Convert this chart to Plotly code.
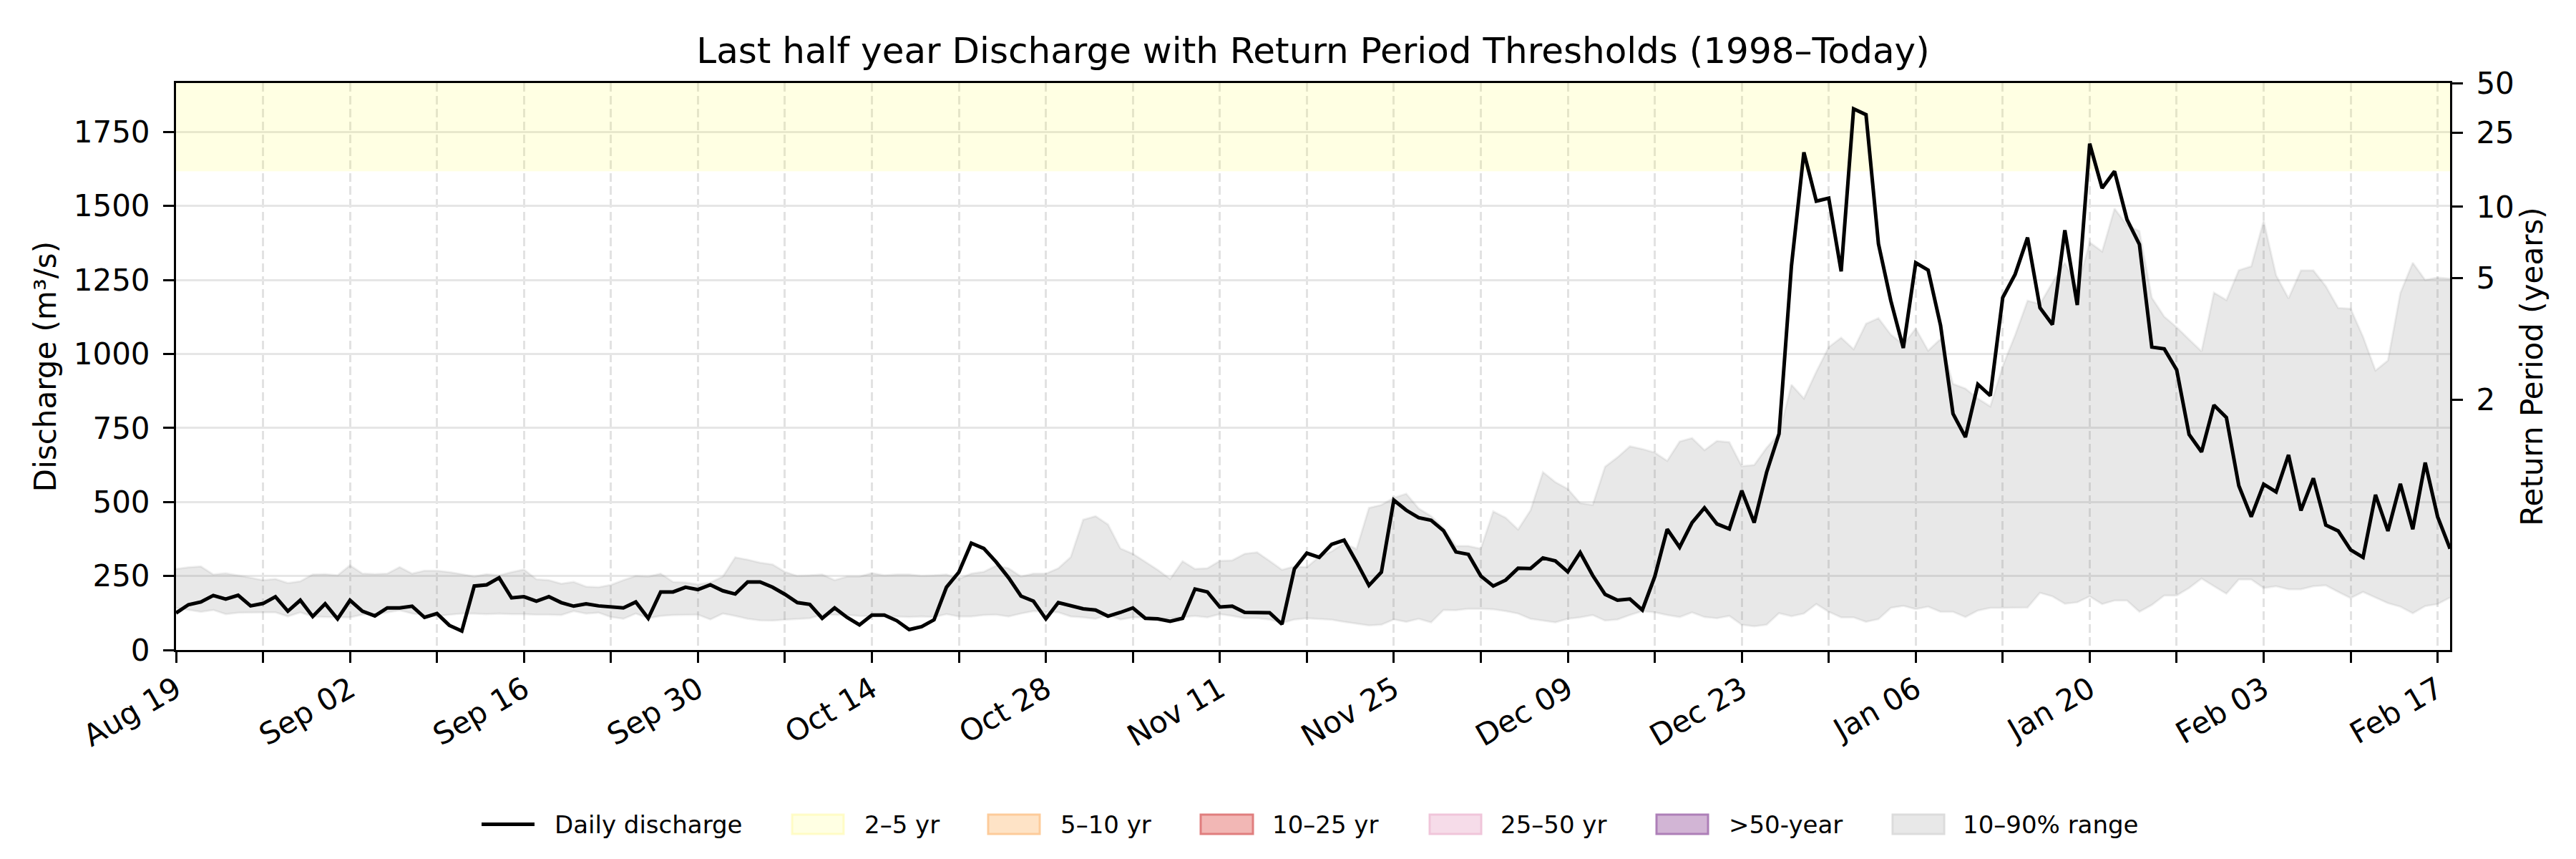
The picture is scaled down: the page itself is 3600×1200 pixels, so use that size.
import pandas as pd
import plotly.graph_objects as go

# last half year of daily discharge (m3/s)
start_date = "2024-08-19"

discharge = [
    125, 153, 162, 184, 172, 185, 149, 157, 180, 131,
    168, 113, 156, 105, 168, 131, 115, 142, 142, 148,
    110, 123, 83, 64, 216, 220, 244, 176, 180, 165,
    180, 160, 148, 156, 149, 145, 142, 162, 107, 196,
    196, 212, 204, 220, 200, 189, 230, 230, 212, 188,
    160, 154, 107, 142, 110, 85, 118, 118, 99, 69,
    79, 102, 212, 263, 361, 343, 297, 244, 182, 165,
    105, 160, 150, 139, 135, 114, 127, 142, 107, 105,
    97, 107, 206, 196, 145, 148, 127, 126, 126, 87,
    274, 327, 313, 357, 371, 297, 218, 263, 506, 472,
    447, 438, 403, 331, 323, 250, 216, 236, 276, 275,
    311, 301, 264, 329, 252, 188, 168, 172, 135, 248,
    408, 347, 430, 480, 426, 409, 538, 430, 600, 730,
    1298, 1681, 1516, 1526, 1279, 1828, 1808, 1372, 1179, 1020,
    1308, 1283, 1096, 798, 719, 897, 859, 1190, 1269, 1393,
    1156, 1099, 1418, 1165, 1710, 1560, 1617, 1454, 1370, 1023,
    1017, 946, 728, 669, 827, 785, 555, 450, 560, 534,
    659, 471, 580, 422, 402, 338, 313, 524, 402, 561,
    408, 633, 450, 342,
]

# 90th percentile of the 1998-today climatology for each day
q90 = [
    274, 279, 282, 255, 259, 252, 244, 236, 240, 226,
    232, 255, 256, 252, 286, 258, 256, 258, 280, 258,
    268, 268, 263, 256, 248, 256, 252, 263, 272, 239,
    236, 224, 230, 214, 212, 220, 236, 250, 248, 258,
    230, 228, 222, 228, 248, 313, 305, 295, 289, 264,
    250, 252, 255, 236, 248, 248, 260, 252, 255, 255,
    250, 252, 255, 240, 258, 264, 285, 276, 248, 258,
    258, 276, 314, 440, 452, 424, 343, 325, 297, 271,
    240, 300, 274, 276, 301, 303, 325, 330, 301, 271,
    282, 280, 315, 333, 361, 341, 480, 490, 514, 528,
    478, 452, 412, 351, 351, 342, 468, 447, 407, 472,
    601, 567, 544, 496, 490, 619, 651, 688, 679, 667,
    639, 704, 716, 675, 706, 702, 621, 625, 683, 730,
    896, 850, 940, 1023, 1055, 1016, 1102, 1121, 1065, 1032,
    1086, 1011, 1051, 899, 883, 849, 823, 959, 1064, 1180,
    1169, 1241, 1308, 1222, 1377, 1346, 1491, 1435, 1415, 1190,
    1126, 1090, 1049, 1009, 1207, 1182, 1283, 1296, 1450, 1266,
    1188, 1282, 1282, 1229, 1155, 1153, 1058, 944, 978, 1206,
    1308, 1250, 1258, 1254,
]

# 10th percentile
q10 = [
    142, 135, 129, 135, 121, 126, 127, 127, 127, 113,
    127, 113, 111, 110, 110, 119, 119, 127, 134, 123,
    118, 115, 119, 123, 123, 121, 123, 121, 121, 119,
    119, 118, 131, 123, 126, 111, 105, 123, 107, 115,
    118, 119, 119, 103, 123, 115, 105, 100, 99, 102,
    105, 107, 119, 119, 118, 115, 113, 113, 113, 111,
    113, 111, 121, 113, 113, 118, 119, 113, 123, 131,
    129, 127, 113, 110, 105, 119, 103, 110, 110, 103,
    107, 111, 115, 110, 121, 115, 107, 107, 103, 91,
    103, 107, 105, 102, 95, 89, 83, 85, 103, 95,
    105, 93, 135, 134, 139, 139, 137, 131, 123, 105,
    99, 93, 105, 110, 118, 99, 103, 118, 131, 127,
    118, 111, 127, 111, 107, 115, 85, 80, 85, 124,
    114, 123, 155, 129, 110, 110, 95, 104, 142, 149,
    138, 146, 129, 129, 111, 133, 142, 142, 143, 143,
    193, 181, 156, 161, 181, 155, 167, 167, 129, 152,
    184, 184, 209, 241, 215, 190, 238, 238, 209, 215,
    205, 205, 215, 218, 196, 175, 196, 177, 158, 146,
    124, 148, 155, 177,
]

y_top = 1915

# return period thresholds shown on the right axis
rp_years = [2, 5, 10, 25, 50]
rp_discharge = [846, 1257, 1497, 1747, 1915]

# return period bands (only the 2-5 yr band reaches into view)
band_names = ["2–5 yr", "5–10 yr", "10–25 yr", "25–50 yr", ">50-year"]
band_low = [1617, None, None, None, None]
band_high = [y_top, None, None, None, None]
band_fill = ["rgba(255,255,0,0.11)", "#fee3c6", "#f2b7b5", "#f6dce9", "#d2b5d5"]
band_edge = ["rgba(255,250,170,0.6)", "#fdcb9a", "#e07e7e", "#f0c5da", "#ad7fb8"]
range_fill, range_edge = "#e8e8e8", "#dcdcdc"

dates = pd.date_range(start_date, periods=len(discharge), freq="D")
x0, x1 = dates[0], dates[-1]

fig = go.Figure()

for i, name in enumerate(band_names):
    if band_low[i] is None:
        continue
    fig.add_trace(go.Scatter(
        x=[x0, x1, x1, x0, x0],
        y=[band_low[i], band_low[i], band_high[i], band_high[i], band_low[i]],
        mode="lines", fill="toself", name=name, showlegend=False,
        fillcolor=band_fill[i], line=dict(width=0), hoverinfo="skip"))

fig.add_trace(go.Scatter(
    x=dates, y=q10, mode="lines", showlegend=False,
    line=dict(color="rgba(128,128,128,0.12)", width=3)))
fig.add_trace(go.Scatter(
    x=dates, y=q90, mode="lines", fill="tonexty", name="10–90% range",
    fillcolor="rgba(128,128,128,0.18)", showlegend=False,
    line=dict(color="rgba(128,128,128,0.12)", width=3)))

fig.add_trace(go.Scatter(
    x=dates, y=discharge, mode="lines", name="Daily discharge",
    line=dict(color="black", width=5), showlegend=False))

# invisible trace to carry the right hand axis
fig.add_trace(go.Scatter(x=[x0], y=[0], yaxis="y2", mode="none",
                         showlegend=False, hoverinfo="skip"))

tick_dates = dates[::7]
tick_text = [d.strftime("%b %d") if i % 2 == 0 else "" for i, d in enumerate(tick_dates)]

# legend drawn by hand below the axes, matplotlib style (pixel positions)
W, H = 3600, 1200
L, R, T, B = 238, 184, 108, 300
pw, ph = W - L - R, H - T - B


def px(x):
    return (x - L) / pw


def py(y):
    return (H - B - y) / ph


leg_y, patch_h = 1143.5, 27
leg_items = [
    ("Daily discharge", "line", 665, 739, 765, "black", "black"),
    (band_names[0], "patch", 1099, 1171, 1198, band_fill[0], band_edge[0]),
    (band_names[1], "patch", 1373, 1445, 1472, band_fill[1], band_edge[1]),
    (band_names[2], "patch", 1670, 1743, 1768, band_fill[2], band_edge[2]),
    (band_names[3], "patch", 1990, 2062, 2087, band_fill[3], band_edge[3]),
    (band_names[4], "patch", 2307, 2379, 2406, band_fill[4], band_edge[4]),
    ("10–90% range", "patch", 2637, 2709, 2733, range_fill, range_edge),
]

shapes, annotations = [], []
for label, kind, a, b, tx, fill, edge in leg_items:
    if kind == "line":
        shapes.append(dict(type="line", xref="paper", yref="paper",
                           x0=px(a), x1=px(b), y0=py(leg_y), y1=py(leg_y),
                           line=dict(color=fill, width=5)))
    else:
        shapes.append(dict(type="rect", xref="paper", yref="paper",
                           x0=px(a), x1=px(b),
                           y0=py(leg_y + patch_h / 2), y1=py(leg_y - patch_h / 2),
                           fillcolor=fill, line=dict(color=edge, width=3)))
    annotations.append(dict(text=label, xref="paper", yref="paper",
                            x=px(tx), y=py(leg_y), xanchor="left", yanchor="middle",
                            showarrow=False, font=dict(size=34, color="black")))

axis_common = dict(
    showline=True, linecolor="black", linewidth=3,
    ticks="outside", ticklen=15, tickwidth=3, tickcolor="black",
    tickfont=dict(size=42, color="black"), zeroline=False,
)

fig.update_layout(
    width=W, height=H, autosize=False,
    margin=dict(l=L, r=R, t=T, b=B),
    paper_bgcolor="white", plot_bgcolor="white",
    font=dict(family="DejaVu Sans", color="black"),
    title=dict(
        text="Last half year Discharge with Return Period Thresholds (1998–Today)",
        x=0.5, xref="paper", xanchor="center",
        y=1 - 62 / H, yref="container", yanchor="middle",
        font=dict(size=50, color="black"),
    ),
    xaxis=dict(
        type="date", range=[x0, x1],
        tickmode="array", tickvals=tick_dates, ticktext=tick_text,
        tickangle=-30, mirror=True,
        showgrid=True, gridcolor="#e2e2e2", gridwidth=3, griddash="12px,6px",
        ticklabelstandoff=-4,
        **axis_common,
    ),
    yaxis=dict(
        range=[0, y_top], tickmode="linear", tick0=0, dtick=250,
        mirror=True, showgrid=True, gridcolor="#e6e6e6", gridwidth=3,
        title=dict(text="Discharge (m³/s)", font=dict(size=42), standoff=12),
        ticklabelstandoff=10,
        **axis_common,
    ),
    yaxis2=dict(
        overlaying="y", side="right", range=[0, y_top],
        tickmode="array", tickvals=rp_discharge, ticktext=[str(v) for v in rp_years],
        showgrid=False,
        title=dict(text="Return Period (years)", font=dict(size=42), standoff=10),
        ticklabelstandoff=10,
        **axis_common,
    ),
    shapes=shapes,
    annotations=annotations,
    showlegend=False,
)

fig.write_html("out.html")
